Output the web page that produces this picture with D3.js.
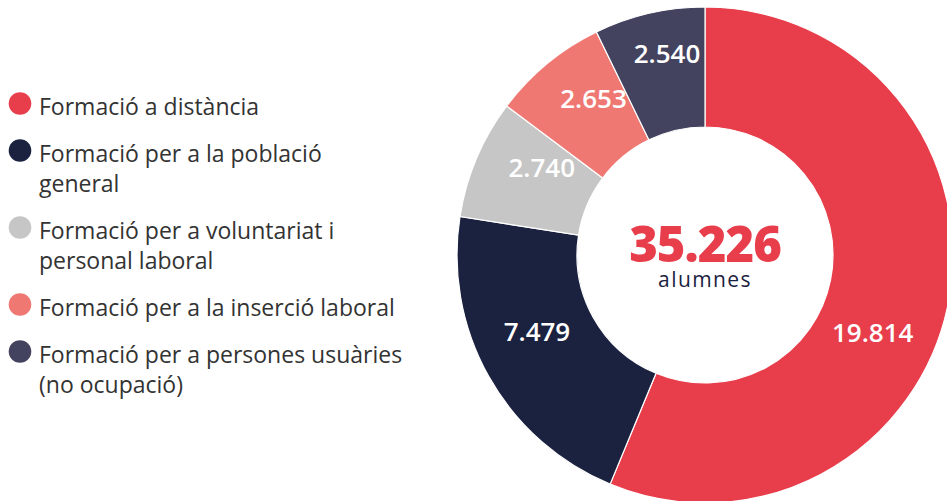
<!DOCTYPE html>
<html>
<head>
<meta charset="utf-8">
<script src="https://cdn.jsdelivr.net/npm/d3@7"></script>
<style>
  body { margin: 0; background: #fff; }
  svg { display: block; }
</style>
</head>
<body>
<div class="chart"></div>
<script>
// DATA ------------------------------------
const categories = [
    ['Formació a distància'],
    ['Formació per a la població', 'general'],
    ['Formació per a voluntariat i', 'personal laboral'],
    ['Formació per a la inserció laboral'],
    ['Formació per a persones usuàries', '(no ocupació)']
];
const values = [19814, 7479, 2740, 2653, 2540];
const colors = ['#e83e4c', '#1b2240', '#c6c6c6', '#ef7872', '#43435f'];
const totalLabel = 'alumnes';

// CHART INIT ------------------------------
const width = 947,
    height = 501;

const svg = d3.select('.chart')
    .append('svg')
    .attr('width', width)
    .attr('height', height);

const fmt = d3.formatLocale({ decimal: ',', thousands: '.', grouping: [3], currency: ['', '€'] }).format(',d');

const data = values.map((v, i) => ({ value: v, lines: categories[i], color: colors[i] }));
const total = d3.sum(values);

// donut
const cx = 705, cy = 255, outerR = 248, innerR = 128;

const pie = d3.pie()
    .value(d => d.value)
    .sort(null);

const arc = d3.arc()
    .innerRadius(innerR)
    .outerRadius(outerR);

// labels sit a bit off the true centroid, as in the original
const labelArc = d3.arc()
    .innerRadius(190)
    .outerRadius(190);
const labelShift = [0.24, 0.08, 0.09, 0.07, 0.04]; // radians

const donut = svg.append('g')
    .attr('transform', `translate(${cx},${cy})`);

const arcs = pie(data);

donut.selectAll('path')
    .data(arcs)
    .enter()
    .append('path')
    .attr('d', arc)
    .attr('fill', d => d.data.color)
    .attr('stroke', '#fff')
    .attr('stroke-width', 1.2);

donut.selectAll('text.val')
    .data(arcs)
    .enter()
    .append('text')
    .attr('class', 'val')
    .attr('transform', (d, i) => {
        const a = (d.startAngle + d.endAngle) / 2 + labelShift[i];
        const r = i === 4 ? 205 : (i === 3 ? 192 : 185);
        return `translate(${r * Math.sin(a)},${-r * Math.cos(a) + 9})`;
    })
    .attr('text-anchor', 'middle')
    .attr('fill', '#fff')
    .attr('font-family', '"Open Sans", sans-serif')
    .attr('font-weight', 600)
    .attr('font-size', 26)
    .text(d => fmt(d.value));

donut.append('text')
    .attr('y', 7)
    .attr('text-anchor', 'middle')
    .attr('fill', '#e83e4c')
    .attr('font-family', '"Open Sans", sans-serif')
    .attr('font-weight', 800)
    .attr('font-size', 49)
    .attr('letter-spacing', -1)
    .text(fmt(total));

donut.append('text')
    .attr('y', 32)
    .attr('text-anchor', 'middle')
    .attr('fill', '#1b2240')
    .attr('font-family', '"Open Sans", sans-serif')
    .attr('font-size', 21)
    .attr('letter-spacing', 1.4)
    .text(totalLabel);

// legend
const legend = svg.append('g');
let y = 115;
data.forEach(d => {
    const item = legend.append('g');
    item.append('circle')
        .attr('cx', 20)
        .attr('cy', y - 11.5)
        .attr('r', 11.3)
        .attr('fill', d.color);
    const t = item.append('text')
        .attr('x', 39)
        .attr('y', y)
        .attr('fill', '#333')
        .attr('font-family', '"Open Sans", sans-serif')
        .attr('font-size', 23);
    d.lines.forEach((line, j) => {
        t.append('tspan')
            .attr('x', 39)
            .attr('y', y + j * 30)
            .text(line);
    });
    y += d.lines.length * 30 + 17;
});
</script>
</body>
</html>
